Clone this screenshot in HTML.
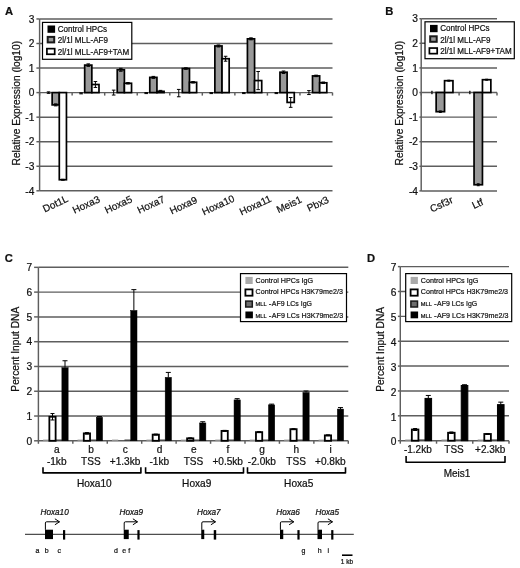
<!DOCTYPE html>
<html><head><meta charset="utf-8"><title>Figure</title>
<style>
html,body{margin:0;padding:0;background:#fff;}
body{width:520px;height:568px;overflow:hidden;font-family:"Liberation Sans",sans-serif;}
svg{display:block;filter:blur(0.35px);}
svg text{font-family:"Liberation Sans",sans-serif;fill:#111;stroke:#111;stroke-width:0.22px;}
</style></head><body>
<svg width="520" height="568" viewBox="0 0 520 568">
<rect x="0" y="0" width="520" height="568" fill="#fff"/>
<line x1="39.60" y1="190.80" x2="332.50" y2="190.80" stroke="#5e5e5e" stroke-width="1.45"/>
<line x1="36.40" y1="190.80" x2="39.60" y2="190.80" stroke="#5e5e5e" stroke-width="1.45"/>
<text x="34.30" y="194.50" font-size="10.2" text-anchor="end" font-weight="normal" font-style="normal" >-4</text>
<line x1="39.60" y1="166.25" x2="332.50" y2="166.25" stroke="#5e5e5e" stroke-width="1.45"/>
<line x1="36.40" y1="166.25" x2="39.60" y2="166.25" stroke="#5e5e5e" stroke-width="1.45"/>
<text x="34.30" y="169.95" font-size="10.2" text-anchor="end" font-weight="normal" font-style="normal" >-3</text>
<line x1="39.60" y1="141.70" x2="332.50" y2="141.70" stroke="#5e5e5e" stroke-width="1.45"/>
<line x1="36.40" y1="141.70" x2="39.60" y2="141.70" stroke="#5e5e5e" stroke-width="1.45"/>
<text x="34.30" y="145.40" font-size="10.2" text-anchor="end" font-weight="normal" font-style="normal" >-2</text>
<line x1="39.60" y1="117.15" x2="332.50" y2="117.15" stroke="#5e5e5e" stroke-width="1.45"/>
<line x1="36.40" y1="117.15" x2="39.60" y2="117.15" stroke="#5e5e5e" stroke-width="1.45"/>
<text x="34.30" y="120.85" font-size="10.2" text-anchor="end" font-weight="normal" font-style="normal" >-1</text>
<line x1="39.60" y1="92.60" x2="332.50" y2="92.60" stroke="#5e5e5e" stroke-width="1.45"/>
<line x1="36.40" y1="92.60" x2="39.60" y2="92.60" stroke="#5e5e5e" stroke-width="1.45"/>
<text x="34.30" y="96.30" font-size="10.2" text-anchor="end" font-weight="normal" font-style="normal" >0</text>
<line x1="39.60" y1="68.05" x2="332.50" y2="68.05" stroke="#5e5e5e" stroke-width="1.45"/>
<line x1="36.40" y1="68.05" x2="39.60" y2="68.05" stroke="#5e5e5e" stroke-width="1.45"/>
<text x="34.30" y="71.75" font-size="10.2" text-anchor="end" font-weight="normal" font-style="normal" >1</text>
<line x1="39.60" y1="43.50" x2="332.50" y2="43.50" stroke="#5e5e5e" stroke-width="1.45"/>
<line x1="36.40" y1="43.50" x2="39.60" y2="43.50" stroke="#5e5e5e" stroke-width="1.45"/>
<text x="34.30" y="47.20" font-size="10.2" text-anchor="end" font-weight="normal" font-style="normal" >2</text>
<line x1="39.60" y1="18.95" x2="332.50" y2="18.95" stroke="#5e5e5e" stroke-width="1.45"/>
<line x1="36.40" y1="18.95" x2="39.60" y2="18.95" stroke="#5e5e5e" stroke-width="1.45"/>
<text x="34.30" y="22.65" font-size="10.2" text-anchor="end" font-weight="normal" font-style="normal" >3</text>
<line x1="39.60" y1="18.95" x2="39.60" y2="190.80" stroke="#5e5e5e" stroke-width="1.45"/>
<line x1="39.60" y1="92.60" x2="39.60" y2="95.60" stroke="#5e5e5e" stroke-width="1.45"/>
<line x1="72.14" y1="92.60" x2="72.14" y2="95.60" stroke="#5e5e5e" stroke-width="1.45"/>
<line x1="104.69" y1="92.60" x2="104.69" y2="95.60" stroke="#5e5e5e" stroke-width="1.45"/>
<line x1="137.23" y1="92.60" x2="137.23" y2="95.60" stroke="#5e5e5e" stroke-width="1.45"/>
<line x1="169.78" y1="92.60" x2="169.78" y2="95.60" stroke="#5e5e5e" stroke-width="1.45"/>
<line x1="202.32" y1="92.60" x2="202.32" y2="95.60" stroke="#5e5e5e" stroke-width="1.45"/>
<line x1="234.87" y1="92.60" x2="234.87" y2="95.60" stroke="#5e5e5e" stroke-width="1.45"/>
<line x1="267.41" y1="92.60" x2="267.41" y2="95.60" stroke="#5e5e5e" stroke-width="1.45"/>
<line x1="299.96" y1="92.60" x2="299.96" y2="95.60" stroke="#5e5e5e" stroke-width="1.45"/>
<line x1="332.50" y1="92.60" x2="332.50" y2="95.60" stroke="#5e5e5e" stroke-width="1.45"/>
<line x1="48.58" y1="91.86" x2="48.58" y2="93.34" stroke="#000" stroke-width="1"/>
<line x1="46.78" y1="91.86" x2="50.38" y2="91.86" stroke="#000" stroke-width="1"/>
<line x1="46.78" y1="93.34" x2="50.38" y2="93.34" stroke="#000" stroke-width="1"/>
<rect x="52.15" y="92.60" width="7.15" height="12.28" fill="#999" stroke="#000" stroke-width="1.7"/>
<line x1="55.73" y1="103.89" x2="55.73" y2="105.86" stroke="#000" stroke-width="1"/>
<line x1="53.93" y1="103.89" x2="57.52" y2="103.89" stroke="#000" stroke-width="1"/>
<line x1="53.93" y1="105.86" x2="57.52" y2="105.86" stroke="#000" stroke-width="1"/>
<rect x="59.30" y="92.60" width="7.15" height="87.15" fill="#fff" stroke="#000" stroke-width="1.7"/>
<line x1="62.88" y1="179.26" x2="62.88" y2="180.24" stroke="#000" stroke-width="1"/>
<line x1="61.08" y1="179.26" x2="64.67" y2="179.26" stroke="#000" stroke-width="1"/>
<line x1="61.08" y1="180.24" x2="64.67" y2="180.24" stroke="#000" stroke-width="1"/>
<line x1="81.12" y1="92.85" x2="81.12" y2="93.83" stroke="#000" stroke-width="1"/>
<line x1="79.32" y1="92.85" x2="82.92" y2="92.85" stroke="#000" stroke-width="1"/>
<line x1="79.32" y1="93.83" x2="82.92" y2="93.83" stroke="#000" stroke-width="1"/>
<rect x="84.69" y="65.10" width="7.15" height="27.50" fill="#999" stroke="#000" stroke-width="1.7"/>
<line x1="88.27" y1="63.88" x2="88.27" y2="66.33" stroke="#000" stroke-width="1"/>
<line x1="86.47" y1="63.88" x2="90.07" y2="63.88" stroke="#000" stroke-width="1"/>
<line x1="86.47" y1="66.33" x2="90.07" y2="66.33" stroke="#000" stroke-width="1"/>
<rect x="91.84" y="84.50" width="7.15" height="8.10" fill="#fff" stroke="#000" stroke-width="1.7"/>
<line x1="95.42" y1="81.55" x2="95.42" y2="87.44" stroke="#000" stroke-width="1"/>
<line x1="93.62" y1="81.55" x2="97.22" y2="81.55" stroke="#000" stroke-width="1"/>
<line x1="93.62" y1="87.44" x2="97.22" y2="87.44" stroke="#000" stroke-width="1"/>
<line x1="113.66" y1="90.14" x2="113.66" y2="95.05" stroke="#000" stroke-width="1"/>
<line x1="111.86" y1="90.14" x2="115.46" y2="90.14" stroke="#000" stroke-width="1"/>
<line x1="111.86" y1="95.05" x2="115.46" y2="95.05" stroke="#000" stroke-width="1"/>
<rect x="117.24" y="69.77" width="7.15" height="22.83" fill="#999" stroke="#000" stroke-width="1.7"/>
<line x1="120.81" y1="68.30" x2="120.81" y2="71.24" stroke="#000" stroke-width="1"/>
<line x1="119.01" y1="68.30" x2="122.61" y2="68.30" stroke="#000" stroke-width="1"/>
<line x1="119.01" y1="71.24" x2="122.61" y2="71.24" stroke="#000" stroke-width="1"/>
<rect x="124.39" y="83.27" width="7.15" height="9.33" fill="#fff" stroke="#000" stroke-width="1.7"/>
<line x1="127.96" y1="82.53" x2="127.96" y2="84.01" stroke="#000" stroke-width="1"/>
<line x1="126.16" y1="82.53" x2="129.76" y2="82.53" stroke="#000" stroke-width="1"/>
<line x1="126.16" y1="84.01" x2="129.76" y2="84.01" stroke="#000" stroke-width="1"/>
<line x1="146.21" y1="92.60" x2="146.21" y2="93.58" stroke="#000" stroke-width="1"/>
<line x1="144.41" y1="92.60" x2="148.01" y2="92.60" stroke="#000" stroke-width="1"/>
<line x1="144.41" y1="93.58" x2="148.01" y2="93.58" stroke="#000" stroke-width="1"/>
<rect x="149.78" y="77.38" width="7.15" height="15.22" fill="#999" stroke="#000" stroke-width="1.7"/>
<line x1="153.36" y1="76.40" x2="153.36" y2="78.36" stroke="#000" stroke-width="1"/>
<line x1="151.56" y1="76.40" x2="155.16" y2="76.40" stroke="#000" stroke-width="1"/>
<line x1="151.56" y1="78.36" x2="155.16" y2="78.36" stroke="#000" stroke-width="1"/>
<rect x="156.93" y="91.37" width="7.15" height="1.23" fill="#fff" stroke="#000" stroke-width="1.7"/>
<line x1="160.51" y1="90.39" x2="160.51" y2="92.35" stroke="#000" stroke-width="1"/>
<line x1="158.71" y1="90.39" x2="162.31" y2="90.39" stroke="#000" stroke-width="1"/>
<line x1="158.71" y1="92.35" x2="162.31" y2="92.35" stroke="#000" stroke-width="1"/>
<line x1="178.75" y1="89.41" x2="178.75" y2="96.77" stroke="#000" stroke-width="1"/>
<line x1="176.95" y1="89.41" x2="180.55" y2="89.41" stroke="#000" stroke-width="1"/>
<line x1="176.95" y1="96.77" x2="180.55" y2="96.77" stroke="#000" stroke-width="1"/>
<rect x="182.33" y="68.54" width="7.15" height="24.06" fill="#999" stroke="#000" stroke-width="1.7"/>
<line x1="185.90" y1="67.80" x2="185.90" y2="69.28" stroke="#000" stroke-width="1"/>
<line x1="184.10" y1="67.80" x2="187.70" y2="67.80" stroke="#000" stroke-width="1"/>
<line x1="184.10" y1="69.28" x2="187.70" y2="69.28" stroke="#000" stroke-width="1"/>
<rect x="189.48" y="82.29" width="7.15" height="10.31" fill="#fff" stroke="#000" stroke-width="1.7"/>
<line x1="193.05" y1="81.55" x2="193.05" y2="83.03" stroke="#000" stroke-width="1"/>
<line x1="191.25" y1="81.55" x2="194.85" y2="81.55" stroke="#000" stroke-width="1"/>
<line x1="191.25" y1="83.03" x2="194.85" y2="83.03" stroke="#000" stroke-width="1"/>
<line x1="211.30" y1="92.60" x2="211.30" y2="93.58" stroke="#000" stroke-width="1"/>
<line x1="209.50" y1="92.60" x2="213.10" y2="92.60" stroke="#000" stroke-width="1"/>
<line x1="209.50" y1="93.58" x2="213.10" y2="93.58" stroke="#000" stroke-width="1"/>
<rect x="214.87" y="45.95" width="7.15" height="46.64" fill="#999" stroke="#000" stroke-width="1.7"/>
<line x1="218.45" y1="44.97" x2="218.45" y2="46.94" stroke="#000" stroke-width="1"/>
<line x1="216.65" y1="44.97" x2="220.25" y2="44.97" stroke="#000" stroke-width="1"/>
<line x1="216.65" y1="46.94" x2="220.25" y2="46.94" stroke="#000" stroke-width="1"/>
<rect x="222.02" y="58.72" width="7.15" height="33.88" fill="#fff" stroke="#000" stroke-width="1.7"/>
<line x1="225.60" y1="56.27" x2="225.60" y2="61.18" stroke="#000" stroke-width="1"/>
<line x1="223.80" y1="56.27" x2="227.40" y2="56.27" stroke="#000" stroke-width="1"/>
<line x1="223.80" y1="61.18" x2="227.40" y2="61.18" stroke="#000" stroke-width="1"/>
<line x1="243.84" y1="92.60" x2="243.84" y2="93.58" stroke="#000" stroke-width="1"/>
<line x1="242.04" y1="92.60" x2="245.64" y2="92.60" stroke="#000" stroke-width="1"/>
<line x1="242.04" y1="93.58" x2="245.64" y2="93.58" stroke="#000" stroke-width="1"/>
<rect x="247.42" y="38.84" width="7.15" height="53.76" fill="#999" stroke="#000" stroke-width="1.7"/>
<line x1="250.99" y1="37.85" x2="250.99" y2="39.82" stroke="#000" stroke-width="1"/>
<line x1="249.19" y1="37.85" x2="252.79" y2="37.85" stroke="#000" stroke-width="1"/>
<line x1="249.19" y1="39.82" x2="252.79" y2="39.82" stroke="#000" stroke-width="1"/>
<rect x="254.57" y="80.57" width="7.15" height="12.03" fill="#fff" stroke="#000" stroke-width="1.7"/>
<line x1="258.14" y1="71.49" x2="258.14" y2="89.65" stroke="#000" stroke-width="1"/>
<line x1="256.34" y1="71.49" x2="259.94" y2="71.49" stroke="#000" stroke-width="1"/>
<line x1="256.34" y1="89.65" x2="259.94" y2="89.65" stroke="#000" stroke-width="1"/>
<line x1="276.39" y1="92.60" x2="276.39" y2="93.58" stroke="#000" stroke-width="1"/>
<line x1="274.59" y1="92.60" x2="278.19" y2="92.60" stroke="#000" stroke-width="1"/>
<line x1="274.59" y1="93.58" x2="278.19" y2="93.58" stroke="#000" stroke-width="1"/>
<rect x="279.96" y="72.22" width="7.15" height="20.38" fill="#999" stroke="#000" stroke-width="1.7"/>
<line x1="283.54" y1="71.00" x2="283.54" y2="73.45" stroke="#000" stroke-width="1"/>
<line x1="281.74" y1="71.00" x2="285.34" y2="71.00" stroke="#000" stroke-width="1"/>
<line x1="281.74" y1="73.45" x2="285.34" y2="73.45" stroke="#000" stroke-width="1"/>
<rect x="287.11" y="92.60" width="7.15" height="9.82" fill="#fff" stroke="#000" stroke-width="1.7"/>
<line x1="290.69" y1="97.51" x2="290.69" y2="107.33" stroke="#000" stroke-width="1"/>
<line x1="288.89" y1="97.51" x2="292.49" y2="97.51" stroke="#000" stroke-width="1"/>
<line x1="288.89" y1="107.33" x2="292.49" y2="107.33" stroke="#000" stroke-width="1"/>
<line x1="308.93" y1="90.64" x2="308.93" y2="94.56" stroke="#000" stroke-width="1"/>
<line x1="307.13" y1="90.64" x2="310.73" y2="90.64" stroke="#000" stroke-width="1"/>
<line x1="307.13" y1="94.56" x2="310.73" y2="94.56" stroke="#000" stroke-width="1"/>
<rect x="312.51" y="75.91" width="7.15" height="16.69" fill="#999" stroke="#000" stroke-width="1.7"/>
<line x1="316.08" y1="75.17" x2="316.08" y2="76.64" stroke="#000" stroke-width="1"/>
<line x1="314.28" y1="75.17" x2="317.88" y2="75.17" stroke="#000" stroke-width="1"/>
<line x1="314.28" y1="76.64" x2="317.88" y2="76.64" stroke="#000" stroke-width="1"/>
<rect x="319.66" y="82.78" width="7.15" height="9.82" fill="#fff" stroke="#000" stroke-width="1.7"/>
<line x1="323.23" y1="82.04" x2="323.23" y2="83.52" stroke="#000" stroke-width="1"/>
<line x1="321.43" y1="82.04" x2="325.03" y2="82.04" stroke="#000" stroke-width="1"/>
<line x1="321.43" y1="83.52" x2="325.03" y2="83.52" stroke="#000" stroke-width="1"/>
<text transform="translate(44.70,212.50) rotate(-25)" font-size="10" text-anchor="start" font-weight="normal" font-style="normal" >Dot1L</text>
<text transform="translate(74.50,213.80) rotate(-25)" font-size="10" text-anchor="start" font-weight="normal" font-style="normal" >Hoxa3</text>
<text transform="translate(106.75,213.75) rotate(-25)" font-size="10" text-anchor="start" font-weight="normal" font-style="normal" >Hoxa5</text>
<text transform="translate(139.25,213.75) rotate(-25)" font-size="10" text-anchor="start" font-weight="normal" font-style="normal" >Hoxa7</text>
<text transform="translate(171.75,214.50) rotate(-25)" font-size="10" text-anchor="start" font-weight="normal" font-style="normal" >Hoxa9</text>
<text transform="translate(204.00,215.40) rotate(-25)" font-size="10" text-anchor="start" font-weight="normal" font-style="normal" >Hoxa10</text>
<text transform="translate(241.50,215.40) rotate(-25)" font-size="10" text-anchor="start" font-weight="normal" font-style="normal" >Hoxa11</text>
<text transform="translate(278.40,213.20) rotate(-25)" font-size="10" text-anchor="start" font-weight="normal" font-style="normal" >Meis1</text>
<text transform="translate(309.00,211.70) rotate(-25)" font-size="10" text-anchor="start" font-weight="normal" font-style="normal" >Pbx3</text>
<text transform="translate(19.80,103.20) rotate(-90)" font-size="10.2" text-anchor="middle" font-weight="normal" font-style="normal" >Relative Expression (log10)</text>
<text x="5.00" y="14.60" font-size="11.2" text-anchor="start" font-weight="bold" font-style="normal" >A</text>
<rect x="42.50" y="22.40" width="89.30" height="36.90" fill="#fff" stroke="#000" stroke-width="1.2"/>
<rect x="47.50" y="25.50" width="7.60" height="7.30" fill="#000"/>
<rect x="47.70" y="36.90" width="6.50" height="5.50" fill="#999" stroke="#1a1a1a" stroke-width="2"/>
<rect x="46.90" y="48.65" width="7.80" height="5.60" fill="#fff" stroke="#000" stroke-width="1.7"/>
<text transform="translate(57.70,31.80) scale(0.952,1)" font-size="8.5">Control HPCs</text>
<text transform="translate(57.70,43.30) scale(0.952,1)" font-size="8.5">2l/1l MLL-AF9</text>
<text transform="translate(57.70,55.00) scale(0.952,1)" font-size="8.5">2l/1l MLL-AF9+TAM</text>
<line x1="421.20" y1="190.90" x2="497.00" y2="190.90" stroke="#5e5e5e" stroke-width="1.45"/>
<line x1="419.40" y1="190.90" x2="421.20" y2="190.90" stroke="#5e5e5e" stroke-width="1.45"/>
<text x="418.00" y="194.60" font-size="10.2" text-anchor="end" font-weight="normal" font-style="normal" >-4</text>
<line x1="421.20" y1="166.30" x2="497.00" y2="166.30" stroke="#5e5e5e" stroke-width="1.45"/>
<line x1="419.40" y1="166.30" x2="421.20" y2="166.30" stroke="#5e5e5e" stroke-width="1.45"/>
<text x="418.00" y="170.00" font-size="10.2" text-anchor="end" font-weight="normal" font-style="normal" >-3</text>
<line x1="421.20" y1="141.70" x2="497.00" y2="141.70" stroke="#5e5e5e" stroke-width="1.45"/>
<line x1="419.40" y1="141.70" x2="421.20" y2="141.70" stroke="#5e5e5e" stroke-width="1.45"/>
<text x="418.00" y="145.40" font-size="10.2" text-anchor="end" font-weight="normal" font-style="normal" >-2</text>
<line x1="421.20" y1="117.10" x2="497.00" y2="117.10" stroke="#5e5e5e" stroke-width="1.45"/>
<line x1="419.40" y1="117.10" x2="421.20" y2="117.10" stroke="#5e5e5e" stroke-width="1.45"/>
<text x="418.00" y="120.80" font-size="10.2" text-anchor="end" font-weight="normal" font-style="normal" >-1</text>
<line x1="421.20" y1="92.50" x2="497.00" y2="92.50" stroke="#5e5e5e" stroke-width="1.45"/>
<line x1="419.40" y1="92.50" x2="421.20" y2="92.50" stroke="#5e5e5e" stroke-width="1.45"/>
<text x="418.00" y="96.20" font-size="10.2" text-anchor="end" font-weight="normal" font-style="normal" >0</text>
<line x1="421.20" y1="67.90" x2="497.00" y2="67.90" stroke="#5e5e5e" stroke-width="1.45"/>
<line x1="419.40" y1="67.90" x2="421.20" y2="67.90" stroke="#5e5e5e" stroke-width="1.45"/>
<text x="418.00" y="71.60" font-size="10.2" text-anchor="end" font-weight="normal" font-style="normal" >1</text>
<line x1="421.20" y1="43.30" x2="497.00" y2="43.30" stroke="#5e5e5e" stroke-width="1.45"/>
<line x1="419.40" y1="43.30" x2="421.20" y2="43.30" stroke="#5e5e5e" stroke-width="1.45"/>
<text x="418.00" y="47.00" font-size="10.2" text-anchor="end" font-weight="normal" font-style="normal" >2</text>
<line x1="421.20" y1="18.70" x2="497.00" y2="18.70" stroke="#5e5e5e" stroke-width="1.45"/>
<line x1="419.40" y1="18.70" x2="421.20" y2="18.70" stroke="#5e5e5e" stroke-width="1.45"/>
<text x="418.00" y="22.40" font-size="10.2" text-anchor="end" font-weight="normal" font-style="normal" >3</text>
<line x1="421.20" y1="18.70" x2="421.20" y2="190.90" stroke="#5e5e5e" stroke-width="1.45"/>
<line x1="421.20" y1="92.50" x2="421.20" y2="95.50" stroke="#5e5e5e" stroke-width="1.45"/>
<line x1="459.10" y1="92.50" x2="459.10" y2="95.50" stroke="#5e5e5e" stroke-width="1.45"/>
<line x1="497.00" y1="92.50" x2="497.00" y2="95.50" stroke="#5e5e5e" stroke-width="1.45"/>
<line x1="431.95" y1="91.27" x2="431.95" y2="93.73" stroke="#000" stroke-width="1"/>
<line x1="431.35" y1="91.27" x2="432.55" y2="91.27" stroke="#000" stroke-width="1"/>
<line x1="431.35" y1="93.73" x2="432.55" y2="93.73" stroke="#000" stroke-width="1"/>
<rect x="436.15" y="92.50" width="8.40" height="19.19" fill="#999" stroke="#000" stroke-width="1.7"/>
<line x1="440.35" y1="110.95" x2="440.35" y2="112.43" stroke="#000" stroke-width="1"/>
<line x1="438.90" y1="110.95" x2="441.80" y2="110.95" stroke="#000" stroke-width="1"/>
<line x1="438.90" y1="112.43" x2="441.80" y2="112.43" stroke="#000" stroke-width="1"/>
<rect x="444.55" y="80.69" width="8.40" height="11.81" fill="#fff" stroke="#000" stroke-width="1.7"/>
<line x1="448.75" y1="80.20" x2="448.75" y2="81.18" stroke="#000" stroke-width="1"/>
<line x1="447.30" y1="80.20" x2="450.20" y2="80.20" stroke="#000" stroke-width="1"/>
<line x1="447.30" y1="81.18" x2="450.20" y2="81.18" stroke="#000" stroke-width="1"/>
<line x1="469.85" y1="91.27" x2="469.85" y2="93.73" stroke="#000" stroke-width="1"/>
<line x1="469.25" y1="91.27" x2="470.45" y2="91.27" stroke="#000" stroke-width="1"/>
<line x1="469.25" y1="93.73" x2="470.45" y2="93.73" stroke="#000" stroke-width="1"/>
<rect x="474.05" y="92.50" width="8.40" height="92.25" fill="#999" stroke="#000" stroke-width="1.7"/>
<line x1="478.25" y1="183.77" x2="478.25" y2="185.73" stroke="#000" stroke-width="1"/>
<line x1="476.80" y1="183.77" x2="479.70" y2="183.77" stroke="#000" stroke-width="1"/>
<line x1="476.80" y1="185.73" x2="479.70" y2="185.73" stroke="#000" stroke-width="1"/>
<rect x="482.45" y="79.71" width="8.40" height="12.79" fill="#fff" stroke="#000" stroke-width="1.7"/>
<line x1="486.65" y1="79.22" x2="486.65" y2="80.20" stroke="#000" stroke-width="1"/>
<line x1="485.20" y1="79.22" x2="488.10" y2="79.22" stroke="#000" stroke-width="1"/>
<line x1="485.20" y1="80.20" x2="488.10" y2="80.20" stroke="#000" stroke-width="1"/>
<text transform="translate(402.50,103.20) rotate(-90)" font-size="10.2" text-anchor="middle" font-weight="normal" font-style="normal" >Relative Expression (log10)</text>
<text x="385.20" y="15.00" font-size="11.2" text-anchor="start" font-weight="bold" font-style="normal" >B</text>
<text transform="translate(432.00,212.50) rotate(-25)" font-size="10" text-anchor="start" font-weight="normal" font-style="normal" >Csf3r</text>
<text transform="translate(474.00,209.00) rotate(-25)" font-size="10" text-anchor="start" font-weight="normal" font-style="normal" >Ltf</text>
<rect x="425.00" y="21.80" width="89.30" height="36.90" fill="#fff" stroke="#000" stroke-width="1.2"/>
<rect x="430.00" y="24.90" width="7.60" height="7.30" fill="#000"/>
<rect x="430.20" y="36.30" width="6.50" height="5.50" fill="#999" stroke="#1a1a1a" stroke-width="2"/>
<rect x="429.40" y="48.05" width="7.80" height="5.60" fill="#fff" stroke="#000" stroke-width="1.7"/>
<text transform="translate(440.20,31.20) scale(0.952,1)" font-size="8.5">Control HPCs</text>
<text transform="translate(440.20,42.70) scale(0.952,1)" font-size="8.5">2l/1l MLL-AF9</text>
<text transform="translate(440.20,54.40) scale(0.952,1)" font-size="8.5">2l/1l MLL-AF9+TAM</text>
<line x1="38.40" y1="440.80" x2="348.30" y2="440.80" stroke="#5e5e5e" stroke-width="1.45"/>
<line x1="34.10" y1="440.80" x2="38.40" y2="440.80" stroke="#5e5e5e" stroke-width="1.45"/>
<text x="32.10" y="444.50" font-size="10.2" text-anchor="end" font-weight="normal" font-style="normal" >0</text>
<line x1="38.40" y1="416.02" x2="348.30" y2="416.02" stroke="#5e5e5e" stroke-width="1.45"/>
<line x1="34.10" y1="416.02" x2="38.40" y2="416.02" stroke="#5e5e5e" stroke-width="1.45"/>
<text x="32.10" y="419.72" font-size="10.2" text-anchor="end" font-weight="normal" font-style="normal" >1</text>
<line x1="38.40" y1="391.24" x2="348.30" y2="391.24" stroke="#5e5e5e" stroke-width="1.45"/>
<line x1="34.10" y1="391.24" x2="38.40" y2="391.24" stroke="#5e5e5e" stroke-width="1.45"/>
<text x="32.10" y="394.94" font-size="10.2" text-anchor="end" font-weight="normal" font-style="normal" >2</text>
<line x1="38.40" y1="366.46" x2="348.30" y2="366.46" stroke="#5e5e5e" stroke-width="1.45"/>
<line x1="34.10" y1="366.46" x2="38.40" y2="366.46" stroke="#5e5e5e" stroke-width="1.45"/>
<text x="32.10" y="370.16" font-size="10.2" text-anchor="end" font-weight="normal" font-style="normal" >3</text>
<line x1="38.40" y1="341.68" x2="348.30" y2="341.68" stroke="#5e5e5e" stroke-width="1.45"/>
<line x1="34.10" y1="341.68" x2="38.40" y2="341.68" stroke="#5e5e5e" stroke-width="1.45"/>
<text x="32.10" y="345.38" font-size="10.2" text-anchor="end" font-weight="normal" font-style="normal" >4</text>
<line x1="38.40" y1="316.90" x2="348.30" y2="316.90" stroke="#5e5e5e" stroke-width="1.45"/>
<line x1="34.10" y1="316.90" x2="38.40" y2="316.90" stroke="#5e5e5e" stroke-width="1.45"/>
<text x="32.10" y="320.60" font-size="10.2" text-anchor="end" font-weight="normal" font-style="normal" >5</text>
<line x1="38.40" y1="292.12" x2="348.30" y2="292.12" stroke="#5e5e5e" stroke-width="1.45"/>
<line x1="34.10" y1="292.12" x2="38.40" y2="292.12" stroke="#5e5e5e" stroke-width="1.45"/>
<text x="32.10" y="295.82" font-size="10.2" text-anchor="end" font-weight="normal" font-style="normal" >6</text>
<line x1="38.40" y1="267.34" x2="348.30" y2="267.34" stroke="#5e5e5e" stroke-width="1.45"/>
<line x1="34.10" y1="267.34" x2="38.40" y2="267.34" stroke="#5e5e5e" stroke-width="1.45"/>
<text x="32.10" y="271.04" font-size="10.2" text-anchor="end" font-weight="normal" font-style="normal" >7</text>
<line x1="38.40" y1="267.34" x2="38.40" y2="440.80" stroke="#5e5e5e" stroke-width="1.45"/>
<line x1="38.40" y1="440.80" x2="38.40" y2="443.80" stroke="#5e5e5e" stroke-width="1.45"/>
<line x1="72.83" y1="440.80" x2="72.83" y2="443.80" stroke="#5e5e5e" stroke-width="1.45"/>
<line x1="107.27" y1="440.80" x2="107.27" y2="443.80" stroke="#5e5e5e" stroke-width="1.45"/>
<line x1="141.70" y1="440.80" x2="141.70" y2="443.80" stroke="#5e5e5e" stroke-width="1.45"/>
<line x1="176.13" y1="440.80" x2="176.13" y2="443.80" stroke="#5e5e5e" stroke-width="1.45"/>
<line x1="210.57" y1="440.80" x2="210.57" y2="443.80" stroke="#5e5e5e" stroke-width="1.45"/>
<line x1="245.00" y1="440.80" x2="245.00" y2="443.80" stroke="#5e5e5e" stroke-width="1.45"/>
<line x1="279.43" y1="440.80" x2="279.43" y2="443.80" stroke="#5e5e5e" stroke-width="1.45"/>
<line x1="313.87" y1="440.80" x2="313.87" y2="443.80" stroke="#5e5e5e" stroke-width="1.45"/>
<line x1="348.30" y1="440.80" x2="348.30" y2="443.80" stroke="#5e5e5e" stroke-width="1.45"/>
<line x1="43.10" y1="440.20" x2="49.36" y2="440.20" stroke="#999" stroke-width="1.2"/>
<line x1="55.62" y1="440.20" x2="61.88" y2="440.20" stroke="#444" stroke-width="1.4"/>
<rect x="49.36" y="416.76" width="6.26" height="24.04" fill="#fff" stroke="#000" stroke-width="1.8"/>
<line x1="52.49" y1="413.54" x2="52.49" y2="419.98" stroke="#000" stroke-width="1"/>
<line x1="50.49" y1="413.54" x2="54.49" y2="413.54" stroke="#000" stroke-width="1"/>
<line x1="50.49" y1="419.98" x2="54.49" y2="419.98" stroke="#000" stroke-width="1"/>
<rect x="61.88" y="367.70" width="6.26" height="73.10" fill="#000" stroke="#000" stroke-width="0.5"/>
<line x1="65.01" y1="360.76" x2="65.01" y2="367.70" stroke="#000" stroke-width="1"/>
<line x1="62.51" y1="360.76" x2="67.51" y2="360.76" stroke="#000" stroke-width="1"/>
<line x1="77.53" y1="440.20" x2="83.79" y2="440.20" stroke="#999" stroke-width="1.2"/>
<line x1="90.05" y1="440.20" x2="96.31" y2="440.20" stroke="#444" stroke-width="1.4"/>
<rect x="83.79" y="433.37" width="6.26" height="7.43" fill="#fff" stroke="#000" stroke-width="1.8"/>
<line x1="86.92" y1="432.62" x2="86.92" y2="434.11" stroke="#000" stroke-width="1"/>
<line x1="84.92" y1="432.62" x2="88.92" y2="432.62" stroke="#000" stroke-width="1"/>
<line x1="84.92" y1="434.11" x2="88.92" y2="434.11" stroke="#000" stroke-width="1"/>
<rect x="96.31" y="417.26" width="6.26" height="23.54" fill="#000" stroke="#000" stroke-width="0.5"/>
<line x1="99.44" y1="416.52" x2="99.44" y2="417.26" stroke="#000" stroke-width="1"/>
<line x1="96.94" y1="416.52" x2="101.94" y2="416.52" stroke="#000" stroke-width="1"/>
<line x1="111.96" y1="440.20" x2="118.22" y2="440.20" stroke="#999" stroke-width="1.2"/>
<line x1="124.48" y1="440.20" x2="130.74" y2="440.20" stroke="#444" stroke-width="1.4"/>
<rect x="118.22" y="440.80" width="6.26" height="0.00" fill="#fff" stroke="#000" stroke-width="1.8"/>
<rect x="130.74" y="310.46" width="6.26" height="130.34" fill="#000" stroke="#000" stroke-width="0.5"/>
<line x1="133.87" y1="289.64" x2="133.87" y2="310.46" stroke="#000" stroke-width="1"/>
<line x1="131.37" y1="289.64" x2="136.37" y2="289.64" stroke="#000" stroke-width="1"/>
<line x1="146.40" y1="440.20" x2="152.66" y2="440.20" stroke="#999" stroke-width="1.2"/>
<line x1="158.92" y1="440.20" x2="165.18" y2="440.20" stroke="#444" stroke-width="1.4"/>
<rect x="152.66" y="434.61" width="6.26" height="6.19" fill="#fff" stroke="#000" stroke-width="1.8"/>
<line x1="155.79" y1="434.11" x2="155.79" y2="435.10" stroke="#000" stroke-width="1"/>
<line x1="153.79" y1="434.11" x2="157.79" y2="434.11" stroke="#000" stroke-width="1"/>
<line x1="153.79" y1="435.10" x2="157.79" y2="435.10" stroke="#000" stroke-width="1"/>
<rect x="165.18" y="377.36" width="6.26" height="63.44" fill="#000" stroke="#000" stroke-width="0.5"/>
<line x1="168.31" y1="372.41" x2="168.31" y2="377.36" stroke="#000" stroke-width="1"/>
<line x1="165.81" y1="372.41" x2="170.81" y2="372.41" stroke="#000" stroke-width="1"/>
<line x1="180.83" y1="440.20" x2="187.09" y2="440.20" stroke="#999" stroke-width="1.2"/>
<line x1="193.35" y1="440.20" x2="199.61" y2="440.20" stroke="#444" stroke-width="1.4"/>
<rect x="187.09" y="438.32" width="6.26" height="2.48" fill="#fff" stroke="#000" stroke-width="1.8"/>
<line x1="190.22" y1="437.83" x2="190.22" y2="438.82" stroke="#000" stroke-width="1"/>
<line x1="188.22" y1="437.83" x2="192.22" y2="437.83" stroke="#000" stroke-width="1"/>
<line x1="188.22" y1="438.82" x2="192.22" y2="438.82" stroke="#000" stroke-width="1"/>
<rect x="199.61" y="422.96" width="6.26" height="17.84" fill="#000" stroke="#000" stroke-width="0.5"/>
<line x1="202.74" y1="421.72" x2="202.74" y2="422.96" stroke="#000" stroke-width="1"/>
<line x1="200.24" y1="421.72" x2="205.24" y2="421.72" stroke="#000" stroke-width="1"/>
<line x1="215.26" y1="440.20" x2="221.52" y2="440.20" stroke="#999" stroke-width="1.2"/>
<line x1="227.78" y1="440.20" x2="234.04" y2="440.20" stroke="#444" stroke-width="1.4"/>
<rect x="221.52" y="430.89" width="6.26" height="9.91" fill="#fff" stroke="#000" stroke-width="1.8"/>
<line x1="224.65" y1="430.39" x2="224.65" y2="431.38" stroke="#000" stroke-width="1"/>
<line x1="222.65" y1="430.39" x2="226.65" y2="430.39" stroke="#000" stroke-width="1"/>
<line x1="222.65" y1="431.38" x2="226.65" y2="431.38" stroke="#000" stroke-width="1"/>
<rect x="234.04" y="399.91" width="6.26" height="40.89" fill="#000" stroke="#000" stroke-width="0.5"/>
<line x1="237.17" y1="398.67" x2="237.17" y2="399.91" stroke="#000" stroke-width="1"/>
<line x1="234.67" y1="398.67" x2="239.67" y2="398.67" stroke="#000" stroke-width="1"/>
<line x1="249.70" y1="440.20" x2="255.96" y2="440.20" stroke="#999" stroke-width="1.2"/>
<line x1="262.22" y1="440.20" x2="268.48" y2="440.20" stroke="#444" stroke-width="1.4"/>
<rect x="255.96" y="432.13" width="6.26" height="8.67" fill="#fff" stroke="#000" stroke-width="1.8"/>
<line x1="259.09" y1="431.63" x2="259.09" y2="432.62" stroke="#000" stroke-width="1"/>
<line x1="257.09" y1="431.63" x2="261.09" y2="431.63" stroke="#000" stroke-width="1"/>
<line x1="257.09" y1="432.62" x2="261.09" y2="432.62" stroke="#000" stroke-width="1"/>
<rect x="268.48" y="404.87" width="6.26" height="35.93" fill="#000" stroke="#000" stroke-width="0.5"/>
<line x1="271.61" y1="404.13" x2="271.61" y2="404.87" stroke="#000" stroke-width="1"/>
<line x1="269.11" y1="404.13" x2="274.11" y2="404.13" stroke="#000" stroke-width="1"/>
<line x1="284.13" y1="440.20" x2="290.39" y2="440.20" stroke="#999" stroke-width="1.2"/>
<line x1="296.65" y1="440.20" x2="302.91" y2="440.20" stroke="#444" stroke-width="1.4"/>
<rect x="290.39" y="429.15" width="6.26" height="11.65" fill="#fff" stroke="#000" stroke-width="1.8"/>
<line x1="293.52" y1="428.66" x2="293.52" y2="429.65" stroke="#000" stroke-width="1"/>
<line x1="291.52" y1="428.66" x2="295.52" y2="428.66" stroke="#000" stroke-width="1"/>
<line x1="291.52" y1="429.65" x2="295.52" y2="429.65" stroke="#000" stroke-width="1"/>
<rect x="302.91" y="392.48" width="6.26" height="48.32" fill="#000" stroke="#000" stroke-width="0.5"/>
<line x1="306.04" y1="390.99" x2="306.04" y2="392.48" stroke="#000" stroke-width="1"/>
<line x1="303.54" y1="390.99" x2="308.54" y2="390.99" stroke="#000" stroke-width="1"/>
<line x1="318.56" y1="440.20" x2="324.82" y2="440.20" stroke="#999" stroke-width="1.2"/>
<line x1="331.08" y1="440.20" x2="337.34" y2="440.20" stroke="#444" stroke-width="1.4"/>
<rect x="324.82" y="435.35" width="6.26" height="5.45" fill="#fff" stroke="#000" stroke-width="1.8"/>
<line x1="327.95" y1="434.85" x2="327.95" y2="435.84" stroke="#000" stroke-width="1"/>
<line x1="325.95" y1="434.85" x2="329.95" y2="434.85" stroke="#000" stroke-width="1"/>
<line x1="325.95" y1="435.84" x2="329.95" y2="435.84" stroke="#000" stroke-width="1"/>
<rect x="337.34" y="409.08" width="6.26" height="31.72" fill="#000" stroke="#000" stroke-width="0.5"/>
<line x1="340.47" y1="407.59" x2="340.47" y2="409.08" stroke="#000" stroke-width="1"/>
<line x1="337.97" y1="407.59" x2="342.97" y2="407.59" stroke="#000" stroke-width="1"/>
<text x="56.90" y="453.10" font-size="10.1" text-anchor="middle" font-weight="normal" font-style="normal" >a</text>
<text x="56.70" y="465.40" font-size="10.1" text-anchor="middle" font-weight="normal" font-style="normal" >-1kb</text>
<text x="91.10" y="453.10" font-size="10.1" text-anchor="middle" font-weight="normal" font-style="normal" >b</text>
<text x="90.90" y="465.40" font-size="10.1" text-anchor="middle" font-weight="normal" font-style="normal" >TSS</text>
<text x="125.30" y="453.10" font-size="10.1" text-anchor="middle" font-weight="normal" font-style="normal" >c</text>
<text x="125.10" y="465.40" font-size="10.1" text-anchor="middle" font-weight="normal" font-style="normal" >+1.3kb</text>
<text x="159.50" y="453.10" font-size="10.1" text-anchor="middle" font-weight="normal" font-style="normal" >d</text>
<text x="159.30" y="465.40" font-size="10.1" text-anchor="middle" font-weight="normal" font-style="normal" >-1kb</text>
<text x="193.70" y="453.10" font-size="10.1" text-anchor="middle" font-weight="normal" font-style="normal" >e</text>
<text x="193.50" y="465.40" font-size="10.1" text-anchor="middle" font-weight="normal" font-style="normal" >TSS</text>
<text x="227.90" y="453.10" font-size="10.1" text-anchor="middle" font-weight="normal" font-style="normal" >f</text>
<text x="227.70" y="465.40" font-size="10.1" text-anchor="middle" font-weight="normal" font-style="normal" >+0.5kb</text>
<text x="262.10" y="453.10" font-size="10.1" text-anchor="middle" font-weight="normal" font-style="normal" >g</text>
<text x="261.90" y="465.40" font-size="10.1" text-anchor="middle" font-weight="normal" font-style="normal" >-2.0kb</text>
<text x="296.30" y="453.10" font-size="10.1" text-anchor="middle" font-weight="normal" font-style="normal" >h</text>
<text x="296.10" y="465.40" font-size="10.1" text-anchor="middle" font-weight="normal" font-style="normal" >TSS</text>
<text x="330.50" y="453.10" font-size="10.1" text-anchor="middle" font-weight="normal" font-style="normal" >i</text>
<text x="330.30" y="465.40" font-size="10.1" text-anchor="middle" font-weight="normal" font-style="normal" >+0.8kb</text>
<path d="M43.0,467.3 L43.0,472.9 L140.9,472.9 L140.9,467.3" fill="none" stroke="#000" stroke-width="1.6" stroke-linejoin="round"/>
<path d="M145.6,467.3 L145.6,472.9 L243.5,472.9 L243.5,467.3" fill="none" stroke="#000" stroke-width="1.6" stroke-linejoin="round"/>
<path d="M247.5,467.3 L247.5,472.9 L345.5,472.9 L345.5,467.3" fill="none" stroke="#000" stroke-width="1.6" stroke-linejoin="round"/>
<text x="94.30" y="486.80" font-size="10.1" text-anchor="middle" font-weight="normal" font-style="normal" >Hoxa10</text>
<text x="196.70" y="486.80" font-size="10.1" text-anchor="middle" font-weight="normal" font-style="normal" >Hoxa9</text>
<text x="298.70" y="486.80" font-size="10.1" text-anchor="middle" font-weight="normal" font-style="normal" >Hoxa5</text>
<text transform="translate(19.00,349.20) rotate(-90)" font-size="10.2" text-anchor="middle" font-weight="normal" font-style="normal" >Percent Input DNA</text>
<text x="4.80" y="261.90" font-size="11.2" text-anchor="start" font-weight="bold" font-style="normal" >C</text>
<rect x="240.50" y="273.60" width="106.00" height="48.00" fill="#fff" stroke="#000" stroke-width="1.2"/>
<rect x="245.40" y="276.90" width="7.30" height="7.10" fill="#aaa"/>
<rect x="245.40" y="289.40" width="7.10" height="6.30" fill="#fff" stroke="#000" stroke-width="1.8"/>
<rect x="245.70" y="301.10" width="6.60" height="5.90" fill="#6e6e6e" stroke="#1a1a1a" stroke-width="1.5"/>
<rect x="245.40" y="311.50" width="7.50" height="6.80" fill="#000"/>
<text x="255.60" y="283.20" font-size="8" text-anchor="start" font-weight="normal" font-style="normal" textLength="57.5" lengthAdjust="spacingAndGlyphs">Control HPCs IgG</text>
<text x="255.60" y="294.30" font-size="8" text-anchor="start" font-weight="normal" font-style="normal" textLength="87.3" lengthAdjust="spacingAndGlyphs">Control HPCs H3K79me2/3</text>
<text x="255.60" y="306.00" font-size="5.7" text-anchor="start" font-weight="normal" font-style="normal" textLength="11" lengthAdjust="spacingAndGlyphs">MLL</text>
<text x="268.80" y="306.00" font-size="8" text-anchor="start" font-weight="normal" font-style="normal" >-</text>
<text x="271.80" y="306.00" font-size="8" text-anchor="start" font-weight="normal" font-style="normal" textLength="40.2" lengthAdjust="spacingAndGlyphs">AF9 LCs IgG</text>
<text x="255.60" y="317.60" font-size="5.7" text-anchor="start" font-weight="normal" font-style="normal" textLength="11" lengthAdjust="spacingAndGlyphs">MLL</text>
<text x="268.80" y="317.60" font-size="8" text-anchor="start" font-weight="normal" font-style="normal" >-</text>
<text x="271.80" y="317.60" font-size="8" text-anchor="start" font-weight="normal" font-style="normal" textLength="71.4" lengthAdjust="spacingAndGlyphs">AF9 LCs H3K79me2/3</text>
<line x1="400.30" y1="440.70" x2="509.00" y2="440.70" stroke="#5e5e5e" stroke-width="1.45"/>
<line x1="397.90" y1="440.70" x2="400.30" y2="440.70" stroke="#5e5e5e" stroke-width="1.45"/>
<text x="396.40" y="445.40" font-size="10.2" text-anchor="end" font-weight="normal" font-style="normal" >0</text>
<line x1="400.30" y1="415.83" x2="509.00" y2="415.83" stroke="#5e5e5e" stroke-width="1.45"/>
<line x1="397.90" y1="415.83" x2="400.30" y2="415.83" stroke="#5e5e5e" stroke-width="1.45"/>
<text x="396.40" y="420.53" font-size="10.2" text-anchor="end" font-weight="normal" font-style="normal" >1</text>
<line x1="400.30" y1="390.96" x2="509.00" y2="390.96" stroke="#5e5e5e" stroke-width="1.45"/>
<line x1="397.90" y1="390.96" x2="400.30" y2="390.96" stroke="#5e5e5e" stroke-width="1.45"/>
<text x="396.40" y="395.66" font-size="10.2" text-anchor="end" font-weight="normal" font-style="normal" >2</text>
<line x1="400.30" y1="366.09" x2="509.00" y2="366.09" stroke="#5e5e5e" stroke-width="1.45"/>
<line x1="397.90" y1="366.09" x2="400.30" y2="366.09" stroke="#5e5e5e" stroke-width="1.45"/>
<text x="396.40" y="370.79" font-size="10.2" text-anchor="end" font-weight="normal" font-style="normal" >3</text>
<line x1="400.30" y1="341.22" x2="509.00" y2="341.22" stroke="#5e5e5e" stroke-width="1.45"/>
<line x1="397.90" y1="341.22" x2="400.30" y2="341.22" stroke="#5e5e5e" stroke-width="1.45"/>
<text x="396.40" y="345.92" font-size="10.2" text-anchor="end" font-weight="normal" font-style="normal" >4</text>
<line x1="400.30" y1="316.35" x2="509.00" y2="316.35" stroke="#5e5e5e" stroke-width="1.45"/>
<line x1="397.90" y1="316.35" x2="400.30" y2="316.35" stroke="#5e5e5e" stroke-width="1.45"/>
<text x="396.40" y="321.05" font-size="10.2" text-anchor="end" font-weight="normal" font-style="normal" >5</text>
<line x1="400.30" y1="291.48" x2="509.00" y2="291.48" stroke="#5e5e5e" stroke-width="1.45"/>
<line x1="397.90" y1="291.48" x2="400.30" y2="291.48" stroke="#5e5e5e" stroke-width="1.45"/>
<text x="396.40" y="296.18" font-size="10.2" text-anchor="end" font-weight="normal" font-style="normal" >6</text>
<line x1="400.30" y1="266.61" x2="509.00" y2="266.61" stroke="#5e5e5e" stroke-width="1.45"/>
<line x1="397.90" y1="266.61" x2="400.30" y2="266.61" stroke="#5e5e5e" stroke-width="1.45"/>
<text x="396.40" y="271.31" font-size="10.2" text-anchor="end" font-weight="normal" font-style="normal" >7</text>
<line x1="400.30" y1="266.61" x2="400.30" y2="440.70" stroke="#5e5e5e" stroke-width="1.45"/>
<line x1="400.30" y1="440.70" x2="400.30" y2="443.70" stroke="#5e5e5e" stroke-width="1.45"/>
<line x1="436.53" y1="440.70" x2="436.53" y2="443.70" stroke="#5e5e5e" stroke-width="1.45"/>
<line x1="472.77" y1="440.70" x2="472.77" y2="443.70" stroke="#5e5e5e" stroke-width="1.45"/>
<line x1="509.00" y1="440.70" x2="509.00" y2="443.70" stroke="#5e5e5e" stroke-width="1.45"/>
<line x1="405.24" y1="440.10" x2="411.83" y2="440.10" stroke="#999" stroke-width="1.2"/>
<line x1="418.42" y1="440.10" x2="425.00" y2="440.10" stroke="#444" stroke-width="1.4"/>
<rect x="411.83" y="429.51" width="6.59" height="11.19" fill="#fff" stroke="#000" stroke-width="1.8"/>
<line x1="415.12" y1="428.51" x2="415.12" y2="430.50" stroke="#000" stroke-width="1"/>
<line x1="413.12" y1="428.51" x2="417.12" y2="428.51" stroke="#000" stroke-width="1"/>
<line x1="413.12" y1="430.50" x2="417.12" y2="430.50" stroke="#000" stroke-width="1"/>
<rect x="425.00" y="398.42" width="6.59" height="42.28" fill="#000" stroke="#000" stroke-width="1.0"/>
<line x1="428.30" y1="395.44" x2="428.30" y2="398.42" stroke="#000" stroke-width="1"/>
<line x1="425.80" y1="395.44" x2="430.80" y2="395.44" stroke="#000" stroke-width="1"/>
<line x1="441.47" y1="440.10" x2="448.06" y2="440.10" stroke="#999" stroke-width="1.2"/>
<line x1="454.65" y1="440.10" x2="461.24" y2="440.10" stroke="#444" stroke-width="1.4"/>
<rect x="448.06" y="432.74" width="6.59" height="7.96" fill="#fff" stroke="#000" stroke-width="1.8"/>
<line x1="451.36" y1="432.00" x2="451.36" y2="433.49" stroke="#000" stroke-width="1"/>
<line x1="449.36" y1="432.00" x2="453.36" y2="432.00" stroke="#000" stroke-width="1"/>
<line x1="449.36" y1="433.49" x2="453.36" y2="433.49" stroke="#000" stroke-width="1"/>
<rect x="461.24" y="385.49" width="6.59" height="55.21" fill="#000" stroke="#000" stroke-width="1.0"/>
<line x1="464.53" y1="384.74" x2="464.53" y2="385.49" stroke="#000" stroke-width="1"/>
<line x1="462.03" y1="384.74" x2="467.03" y2="384.74" stroke="#000" stroke-width="1"/>
<line x1="477.71" y1="440.10" x2="484.30" y2="440.10" stroke="#999" stroke-width="1.2"/>
<line x1="490.88" y1="440.10" x2="497.47" y2="440.10" stroke="#444" stroke-width="1.4"/>
<rect x="484.30" y="433.99" width="6.59" height="6.71" fill="#fff" stroke="#000" stroke-width="1.8"/>
<line x1="487.59" y1="433.49" x2="487.59" y2="434.48" stroke="#000" stroke-width="1"/>
<line x1="485.59" y1="433.49" x2="489.59" y2="433.49" stroke="#000" stroke-width="1"/>
<line x1="485.59" y1="434.48" x2="489.59" y2="434.48" stroke="#000" stroke-width="1"/>
<rect x="497.47" y="404.64" width="6.59" height="36.06" fill="#000" stroke="#000" stroke-width="1.0"/>
<line x1="500.77" y1="402.15" x2="500.77" y2="404.64" stroke="#000" stroke-width="1"/>
<line x1="498.27" y1="402.15" x2="503.27" y2="402.15" stroke="#000" stroke-width="1"/>
<text x="417.82" y="452.60" font-size="10" text-anchor="middle" font-weight="normal" font-style="normal" >-1.2kb</text>
<text x="454.05" y="452.60" font-size="10" text-anchor="middle" font-weight="normal" font-style="normal" >TSS</text>
<text x="490.28" y="452.60" font-size="10" text-anchor="middle" font-weight="normal" font-style="normal" >+2.3kb</text>
<path d="M406.1,456.0 L406.1,462.2 L505.0,462.2 L505.0,456.0" fill="none" stroke="#000" stroke-width="1.6" stroke-linejoin="round"/>
<text x="457.00" y="476.70" font-size="10" text-anchor="middle" font-weight="normal" font-style="normal" >Meis1</text>
<text transform="translate(383.60,349.40) rotate(-90)" font-size="10.2" text-anchor="middle" font-weight="normal" font-style="normal" >Percent Input DNA</text>
<text x="366.90" y="262.20" font-size="11.2" text-anchor="start" font-weight="bold" font-style="normal" >D</text>
<rect x="405.70" y="273.60" width="106.00" height="48.00" fill="#fff" stroke="#000" stroke-width="1.2"/>
<rect x="410.60" y="276.90" width="7.30" height="7.10" fill="#aaa"/>
<rect x="410.60" y="289.40" width="7.10" height="6.30" fill="#fff" stroke="#000" stroke-width="1.8"/>
<rect x="410.90" y="301.10" width="6.60" height="5.90" fill="#6e6e6e" stroke="#1a1a1a" stroke-width="1.5"/>
<rect x="410.60" y="311.50" width="7.50" height="6.80" fill="#000"/>
<text x="420.80" y="283.20" font-size="8" text-anchor="start" font-weight="normal" font-style="normal" textLength="57.5" lengthAdjust="spacingAndGlyphs">Control HPCs IgG</text>
<text x="420.80" y="294.30" font-size="8" text-anchor="start" font-weight="normal" font-style="normal" textLength="87.3" lengthAdjust="spacingAndGlyphs">Control HPCs H3K79me2/3</text>
<text x="420.80" y="306.00" font-size="5.7" text-anchor="start" font-weight="normal" font-style="normal" textLength="11" lengthAdjust="spacingAndGlyphs">MLL</text>
<text x="434.00" y="306.00" font-size="8" text-anchor="start" font-weight="normal" font-style="normal" >-</text>
<text x="437.00" y="306.00" font-size="8" text-anchor="start" font-weight="normal" font-style="normal" textLength="40.2" lengthAdjust="spacingAndGlyphs">AF9 LCs IgG</text>
<text x="420.80" y="317.60" font-size="5.7" text-anchor="start" font-weight="normal" font-style="normal" textLength="11" lengthAdjust="spacingAndGlyphs">MLL</text>
<text x="434.00" y="317.60" font-size="8" text-anchor="start" font-weight="normal" font-style="normal" >-</text>
<text x="437.00" y="317.60" font-size="8" text-anchor="start" font-weight="normal" font-style="normal" textLength="71.4" lengthAdjust="spacingAndGlyphs">AF9 LCs H3K79me2/3</text>
<line x1="25.00" y1="534.30" x2="353.80" y2="534.30" stroke="#222" stroke-width="1"/>
<rect x="45.00" y="529.70" width="8.00" height="9.40" fill="#000"/>
<rect x="63.00" y="530.10" width="2.20" height="9.50" fill="#000"/>
<path d="M45.4,529.8 L45.4,523 Q45.4,521.8 46.6,521.8 L59.5,521.8 M54.9,518.8 L59.5,521.8 L54.9,524.8" fill="none" stroke="#000" stroke-width="1" stroke-linejoin="round"/>
<text x="40.50" y="514.70" font-size="8.2" text-anchor="start" font-weight="normal" font-style="italic" stroke-width="0.05" fill="#222">Hoxa10</text>
<rect x="123.75" y="529.70" width="5.00" height="9.40" fill="#000"/>
<rect x="137.40" y="530.10" width="2.20" height="9.50" fill="#000"/>
<path d="M124.2,529.8 L124.2,523 Q124.2,521.8 125.4,521.8 L137.5,521.8 M132.9,518.8 L137.5,521.8 L132.9,524.8" fill="none" stroke="#000" stroke-width="1" stroke-linejoin="round"/>
<text x="119.50" y="514.70" font-size="8.2" text-anchor="start" font-weight="normal" font-style="italic" stroke-width="0.05" fill="#222">Hoxa9</text>
<rect x="201.25" y="529.70" width="3.00" height="9.40" fill="#000"/>
<rect x="213.75" y="530.10" width="2.45" height="9.50" fill="#000"/>
<path d="M201.8,529.8 L201.8,523 Q201.8,521.8 203.0,521.8 L215.5,521.8 M210.9,518.8 L215.5,521.8 L210.9,524.8" fill="none" stroke="#000" stroke-width="1" stroke-linejoin="round"/>
<text x="197.00" y="514.70" font-size="8.2" text-anchor="start" font-weight="normal" font-style="italic" stroke-width="0.05" fill="#222">Hoxa7</text>
<rect x="280.00" y="529.70" width="3.25" height="9.40" fill="#000"/>
<rect x="297.40" y="530.10" width="2.20" height="9.50" fill="#000"/>
<path d="M280.4,529.8 L280.4,523 Q280.4,521.8 281.6,521.8 L293.8,521.8 M289.1,518.8 L293.8,521.8 L289.1,524.8" fill="none" stroke="#000" stroke-width="1" stroke-linejoin="round"/>
<text x="276.25" y="514.70" font-size="8.2" text-anchor="start" font-weight="normal" font-style="italic" stroke-width="0.05" fill="#222">Hoxa6</text>
<rect x="317.50" y="529.70" width="4.50" height="9.40" fill="#000"/>
<rect x="331.20" y="530.10" width="2.20" height="9.50" fill="#000"/>
<path d="M318.0,529.8 L318.0,523 Q318.0,521.8 319.2,521.8 L332.5,521.8 M327.9,518.8 L332.5,521.8 L327.9,524.8" fill="none" stroke="#000" stroke-width="1" stroke-linejoin="round"/>
<text x="315.50" y="514.70" font-size="8.2" text-anchor="start" font-weight="normal" font-style="italic" stroke-width="0.05" fill="#222">Hoxa5</text>
<text x="37.40" y="552.50" font-size="7" text-anchor="middle" font-weight="normal" font-style="normal" stroke="none" fill="#222">a</text>
<text x="46.65" y="552.50" font-size="7" text-anchor="middle" font-weight="normal" font-style="normal" stroke="none" fill="#222">b</text>
<text x="59.15" y="552.50" font-size="7" text-anchor="middle" font-weight="normal" font-style="normal" stroke="none" fill="#222">c</text>
<text x="115.90" y="552.50" font-size="7" text-anchor="middle" font-weight="normal" font-style="normal" stroke="none" fill="#222">d</text>
<text x="124.15" y="552.50" font-size="7" text-anchor="middle" font-weight="normal" font-style="normal" stroke="none" fill="#222">e</text>
<text x="129.15" y="552.50" font-size="7" text-anchor="middle" font-weight="normal" font-style="normal" stroke="none" fill="#222">f</text>
<text x="303.40" y="552.50" font-size="7" text-anchor="middle" font-weight="normal" font-style="normal" stroke="none" fill="#222">g</text>
<text x="319.65" y="552.50" font-size="7" text-anchor="middle" font-weight="normal" font-style="normal" stroke="none" fill="#222">h</text>
<text x="328.40" y="552.50" font-size="7" text-anchor="middle" font-weight="normal" font-style="normal" stroke="none" fill="#222">i</text>
<line x1="342.00" y1="555.20" x2="352.50" y2="555.20" stroke="#000" stroke-width="1.6"/>
<text x="347.00" y="563.60" font-size="6.5" text-anchor="middle" font-weight="normal" font-style="normal" >1 kb</text>
</svg>
</body></html>
